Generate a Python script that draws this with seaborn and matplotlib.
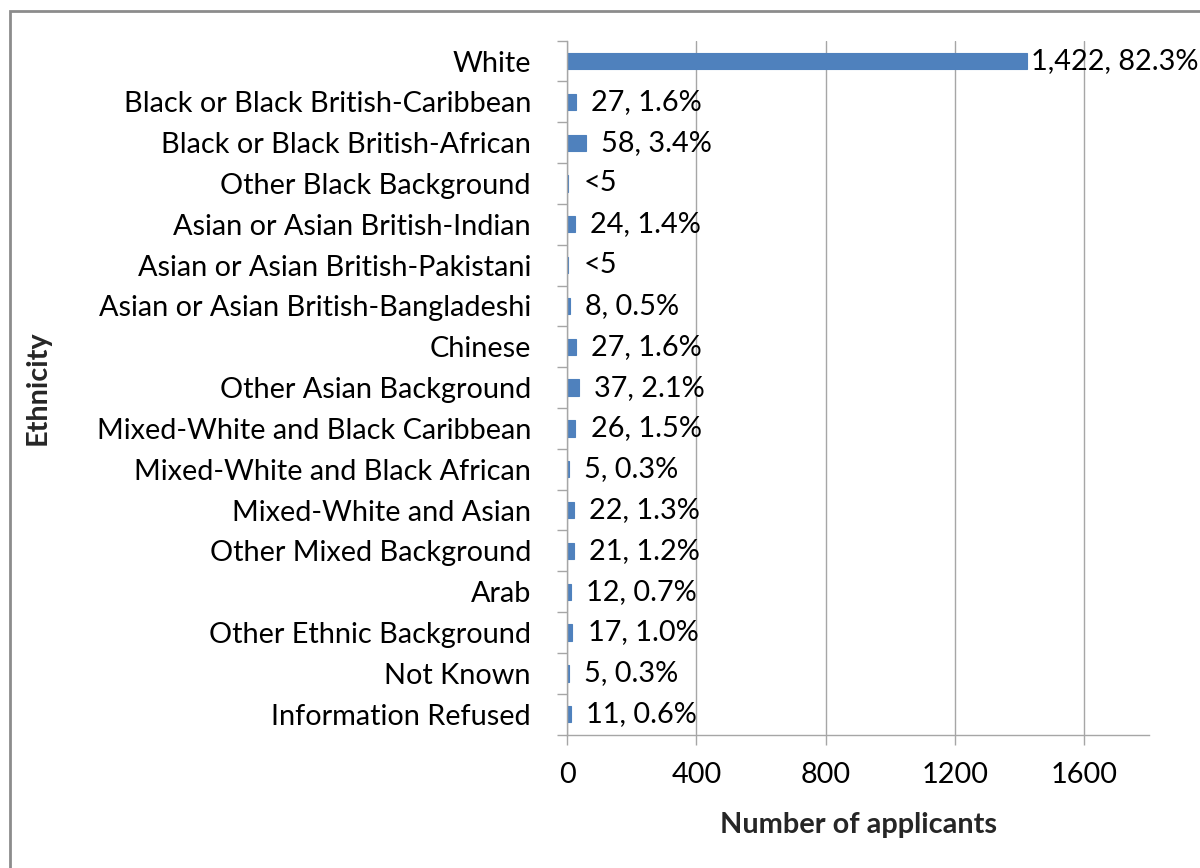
import numpy as np
import pandas as pd
import matplotlib
matplotlib.use("Agg")
import matplotlib.pyplot as plt
from matplotlib.patches import Rectangle
import seaborn as sns

ethnicity = [
    "White", "Black or Black British-Caribbean", "Black or Black British-African",
    "Other Black Background", "Asian or Asian British-Indian",
    "Asian or Asian British-Pakistani", "Asian or Asian British-Bangladeshi",
    "Chinese", "Other Asian Background", "Mixed-White and Black Caribbean",
    "Mixed-White and Black African", "Mixed-White and Asian",
    "Other Mixed Background", "Arab", "Other Ethnic Background",
    "Not Known", "Information Refused",
]
applicants = [1422, 27, 58, 4, 24, 4, 8, 27, 37, 26, 5, 22, 21, 12, 17, 5, 11]
labels = ["1,422, 82.3%", "27, 1.6%", "58, 3.4%", "<5", "24, 1.4%", "<5",
          "8, 0.5%", "27, 1.6%", "37, 2.1%", "26, 1.5%", "5, 0.3%", "22, 1.3%",
          "21, 1.2%", "12, 0.7%", "17, 1.0%", "5, 0.3%", "11, 0.6%"]

BLUE, GRID = "#4F81BD", "#A6A6A6"
FS = 20.8
sns.set_theme(style="white")
plt.rcParams["font.family"] = ["Lato", "DejaVu Sans"]

df = pd.DataFrame({"ethnicity": ethnicity, "n": applicants})
fig = plt.figure(figsize=(12, 8.68), dpi=100)
ax = fig.add_axes([0.4725, 0.1537, 0.485, 0.7995])
sns.barplot(data=df, y="ethnicity", x="n", orient="h", color=BLUE,
            width=0.4, saturation=1, edgecolor=BLUE, linewidth=0.8, ax=ax)

ax.set_xlim(0, 1800)
ax.set_xticks([0, 400, 800, 1200, 1600])
ax.set_ylim(len(ethnicity) - 0.5, -0.5)
ax.set_yticks(np.arange(len(ethnicity) + 1) - 0.5, minor=True)
ax.tick_params(axis="y", which="major", length=0, pad=26, labelsize=FS, labelcolor="black")
ax.tick_params(axis="y", which="minor", length=7, width=1, color=GRID, left=True)
ax.tick_params(axis="x", length=7, width=1, color=GRID, pad=13, labelsize=FS,
               labelcolor="black", bottom=True)
ax.xaxis.grid(True, color=GRID, linewidth=1)
ax.set_axisbelow(True)
for s in ("top", "right"):
    ax.spines[s].set_visible(False)
for s in ("left", "bottom"):
    ax.spines[s].set_color(GRID)
    ax.spines[s].set_linewidth(1)

for i, (v, lab) in enumerate(zip(applicants, labels)):
    off = 3 if i == 0 else 11
    ax.annotate(lab, (v, i), xytext=(off, 0), textcoords="offset points",
                va="center", ha="left", fontsize=FS, color="black")

ax.set_ylabel("Ethnicity", fontsize=FS, fontweight="bold")
ax.yaxis.set_label_coords((51 - 567) / 582, 0.5)
ax.set_xlabel("Number of applicants", fontsize=FS, fontweight="bold")
ax.xaxis.set_label_coords(0.5, -(812 - 734.6) / 694)

fig.patches.append(Rectangle((10 / 1200, -0.1), 1.2, 1 - 11 / 868 + 0.1,
                             transform=fig.transFigure, fill=False,
                             edgecolor="#8C8C8C", linewidth=2))
fig.savefig("out.png", dpi=100, facecolor="white")
